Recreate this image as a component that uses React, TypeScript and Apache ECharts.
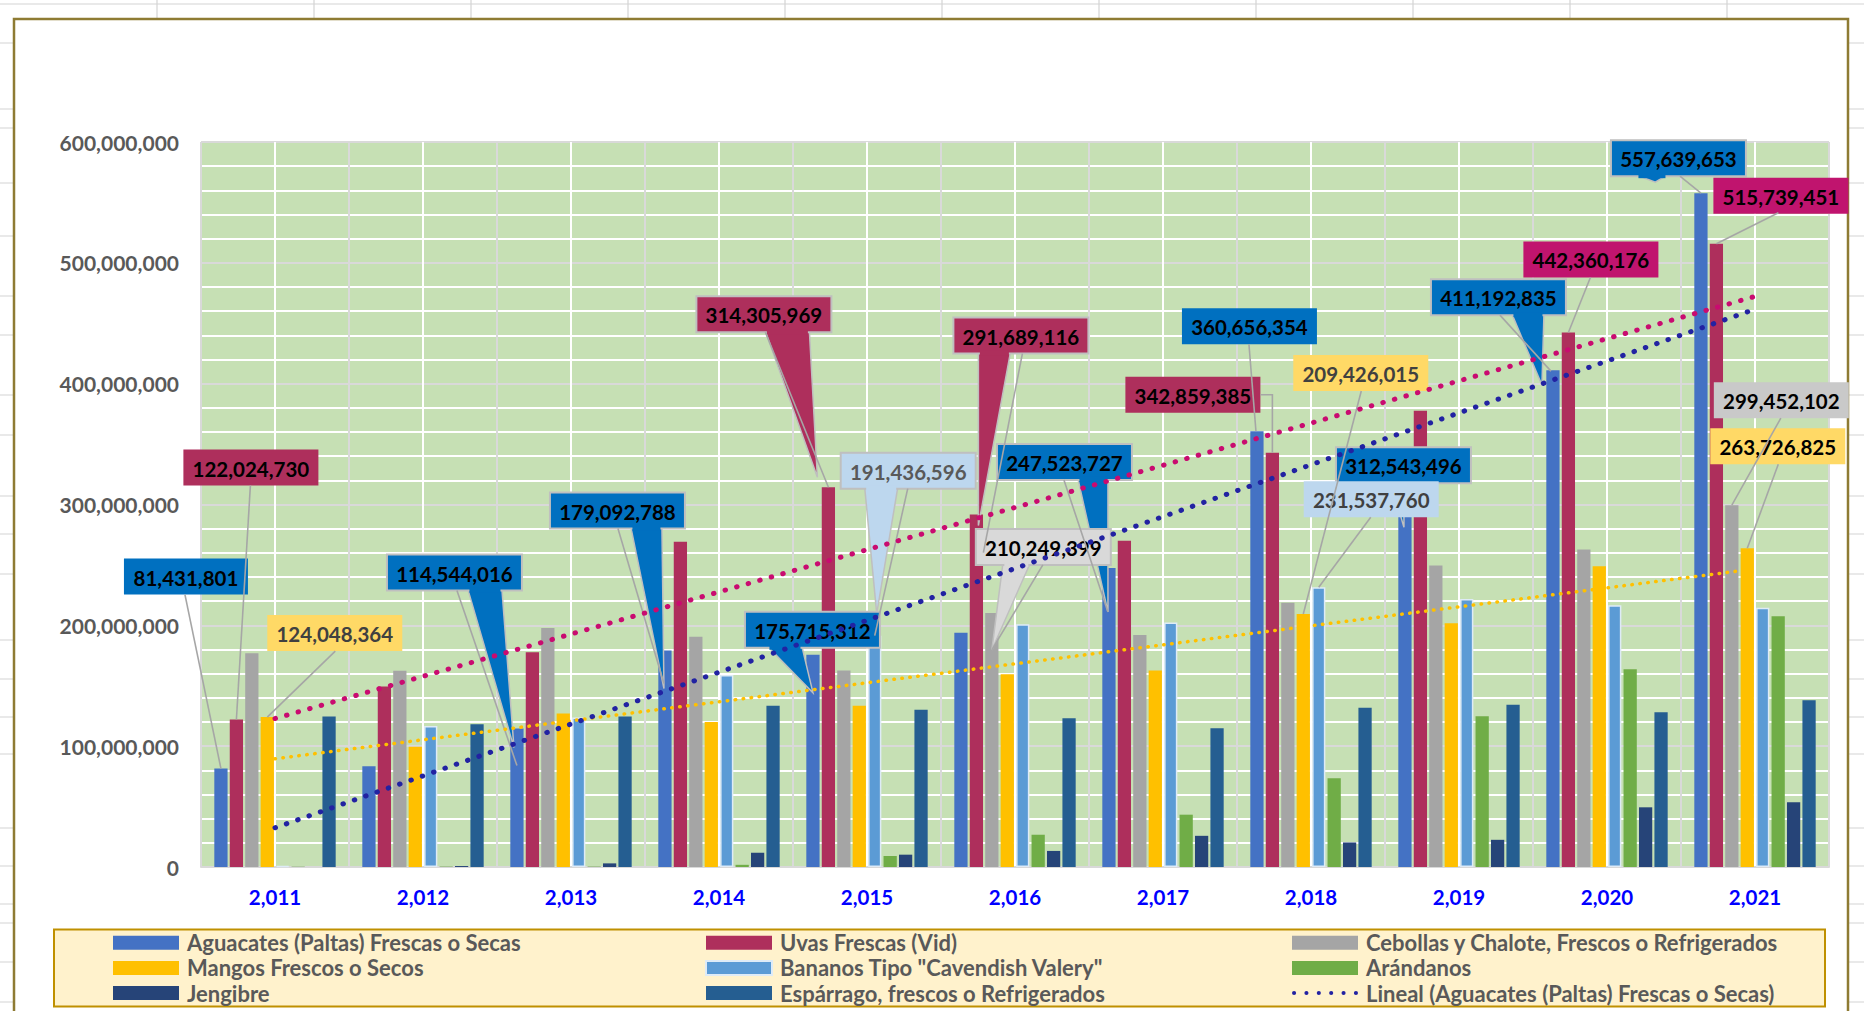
import React, { useEffect, useRef } from 'react';
import * as echarts from 'echarts';

// ---------------- DATA ----------------
const YEARS = [2011, 2012, 2013, 2014, 2015, 2016, 2017, 2018, 2019, 2020, 2021];
const CATEGORY_LABELS = YEARS.map((y) => y.toLocaleString('en-US'));

const NAME_AGU = 'Aguacates (Paltas) Frescas o Secas';
const NAME_UVA = 'Uvas Frescas (Vid)';
const NAME_CEB = 'Cebollas y Chalote, Frescos o Refrigerados';
const NAME_MAN = 'Mangos Frescos o Secos';
const NAME_BAN = 'Bananos Tipo "Cavendish Valery"';
const NAME_ARA = 'Arándanos';
const NAME_JEN = 'Jengibre';
const NAME_ESP = 'Espárrago, frescos o Refrigerados';
const NAME_TREND_AGU = 'Lineal (Aguacates (Paltas) Frescas o Secas)';
const NAME_TREND_UVA = 'Lineal (Uvas Frescas (Vid))';
const NAME_TREND_MAN = 'Lineal (Mangos Frescos o Secos)';

const AGUACATES = [81431801, 83400000, 114544016, 179092788, 175715312, 193800000, 247523727, 360656354, 312543496, 411192835, 557639653];
const UVAS = [122024730, 149400000, 177800000, 269200000, 314305969, 291689116, 269900000, 342859385, 377500000, 442360176, 515739451];
const CEBOLLAS = [176900000, 162500000, 197700000, 190600000, 162600000, 210249399, 191900000, 218700000, 249500000, 262700000, 299452102];
const MANGOS = [124048364, 99500000, 127000000, 119900000, 133400000, 159500000, 162600000, 209426015, 201800000, 248900000, 263726825];
const BANANOS = [1000000, 116700000, 123700000, 158800000, 191436596, 200800000, 202400000, 231537760, 221800000, 216600000, 214600000];
const ARANDANOS = [300000, 400000, 400000, 1800000, 9100000, 26700000, 43300000, 73500000, 124700000, 163700000, 207500000];
const JENGIBRE = [0, 800000, 3000000, 11800000, 10200000, 13300000, 25800000, 20300000, 22500000, 49400000, 53600000];
const ESPARRAGO = [124500000, 118100000, 124500000, 133400000, 130100000, 123100000, 114900000, 131800000, 134300000, 128100000, 138000000];

const Y_MIN = 0;
const Y_MAX = 600000000;
const Y_STEP = 100000000;

// ---------------- STYLE / LAYOUT ----------------
const FONT = 'Lato, "Open Sans", "DejaVu Sans", sans-serif';
const FS = 20.5;

const SERIES_VALUES = [AGUACATES, UVAS, CEBOLLAS, MANGOS, BANANOS, ARANDANOS, JENGIBRE, ESPARRAGO];
const BAR_DEFS = [
  { name: NAME_AGU, color: '#4472C4' },
  { name: NAME_UVA, color: '#AE2F5C' },
  { name: NAME_CEB, color: '#A5A5A5' },
  { name: NAME_MAN, color: '#FFC000' },
  { name: NAME_BAN, color: '#5B9BD5', border: '#DEEBF7' },
  { name: NAME_ARA, color: '#70AD47' },
  { name: NAME_JEN, color: '#264478' },
  { name: NAME_ESP, color: '#255E91' },
];
const N_BARS = BAR_DEFS.length;
const CAT_GAP = 0.18;
const BAR_GAP = 0.165;

const BLUE_BOX = '#0070C0';
const MAROON_BOX = '#AE2F5C';
const MAGENTA_BOX = '#C0146E';
const GOLD_BOX = '#FFD966';
const LBLUE_BOX = '#BDD7EE';
const GRAY_BOX = '#D9D9D9';
const GRAY_BOX2 = '#C9C9C9';
const EDGE = '#BFBFBF';
const LEADER = '#A6A6A6';

type Callout = {
  s: number; c: number; ox: number; oy: number; fill: string; ink: string;
  edge?: boolean; wedge?: number[]; lf?: number[]; lt?: number[]; elbow?: boolean;
};

// offsets in px relative to the top-centre of the bar being labelled
const CALLOUTS: Callout[] = [
  { s: 0, c: 0, ox: -97, oy: -210, fill: BLUE_BOX, ink: '#000', lf: [61, 36], lt: [0, 0] },
  { s: 1, c: 0, ox: -53, oy: -270, fill: MAROON_BOX, ink: '#000', lf: [67, 36], lt: [0, 0] },
  { s: 3, c: 0, ox: 0, oy: -102, fill: GOLD_BOX, ink: '#404040', lf: [68, 36], lt: [0, 0] },
  { s: 0, c: 2, ox: -130, oy: -174, fill: BLUE_BOX, ink: '#000', edge: true, wedge: [81, 115, -3, 19], lf: [70, 36], lt: [0, 37] },
  { s: 0, c: 3, ox: -115, oy: -158, fill: BLUE_BOX, ink: '#000', edge: true, wedge: [81, 112, -1, 38], lf: [68, 36], lt: [-1, 33] },
  { s: 1, c: 4, ox: -132, oy: -191, fill: MAROON_BOX, ink: '#000', edge: true, wedge: [69, 113, -11, -10], lf: [69, 36], lt: [0, 0] },
  { s: 4, c: 4, ox: -34, oy: -183, fill: LBLUE_BOX, ink: '#595959', edge: true, wedge: [24, 57, 2, -22], lf: [67, 36], lt: [0, 0] },
  { s: 0, c: 4, ox: -68, oy: -43, fill: BLUE_BOX, ink: '#000', edge: true, wedge: [23, 57, 0, 38] },
  { s: 1, c: 5, ox: -23, oy: -197, fill: MAROON_BOX, ink: '#000', edge: true, wedge: [25, 57, 2, 11], lf: [69, 36], lt: [7, 38] },
  { s: 0, c: 6, ox: -112, oy: -124, fill: BLUE_BOX, ink: '#000', edge: true, wedge: [81, 111, -1, 44], lf: [67, 36], lt: [-1, 44] },
  { s: 2, c: 5, ox: -16, oy: -84, fill: GRAY_BOX, ink: '#000', edge: true, wedge: [27, 54, 0, 37], lf: [67, 36], lt: [0, 37] },
  { s: 1, c: 7, ox: -147, oy: -76, fill: MAROON_BOX, ink: '#000', lf: [135, 18], lt: [0, 0], elbow: true },
  { s: 0, c: 7, ox: -75, oy: -123, fill: BLUE_BOX, ink: '#000', lf: [67, 36], lt: [-1, 0] },
  { s: 3, c: 7, ox: -10, oy: -259, fill: GOLD_BOX, ink: '#404040', lf: [68, 36], lt: [0, 0] },
  { s: 0, c: 8, ox: -69, oy: -42, fill: BLUE_BOX, ink: '#000', edge: true, wedge: [55, 68, -1, 38] },
  { s: 4, c: 7, ox: -15, oy: -106, fill: LBLUE_BOX, ink: '#404040', lf: [67, 36], lt: [0, 0] },
  { s: 0, c: 9, ox: -122, oy: -91, fill: BLUE_BOX, ink: '#000', edge: true, wedge: [81, 113, -11, 15], lf: [69, 36], lt: [-2, 1] },
  { s: 1, c: 9, ox: -45, oy: -91, fill: MAGENTA_BOX, ink: '#000', lf: [67, 36], lt: [0, 0] },
  { s: 0, c: 10, ox: -90, oy: -53, fill: BLUE_BOX, ink: '#000', edge: true, wedge: [26, 56, -45.6, -11], lf: [69, 36], lt: [0, 0] },
  { s: 1, c: 10, ox: -3, oy: -66, fill: MAGENTA_BOX, ink: '#000', lf: [65, 35], lt: [0, 0] },
  { s: 2, c: 10, ox: -18, oy: -123, fill: GRAY_BOX2, ink: '#000', lf: [67, 36], lt: [0, 0] },
  { s: 3, c: 10, ox: -37, oy: -120, fill: GOLD_BOX, ink: '#000', lf: [68, 36], lt: [0, 0] },
];

const SHEET_COLS = [157, 314, 471, 628, 785, 942, 1099, 1256, 1413, 1570, 1727];
const SHEET_ROWS = [4, 43, 109, 128, 183, 236, 296, 335, 395, 435, 496, 534, 574, 640, 679, 717, 754, 828, 866, 904, 923, 962, 1002];

const DOTS_ICON =
  'path://' +
  [0, 1, 2, 3, 4, 5]
    .map((k) => `M${12 * k},2a2,2 0 1,0 4,0a2,2 0 1,0 -4,0Z`)
    .join('');

function linearFit(vals: number[]): number[] {
  const n = vals.length;
  const mx = (n - 1) / 2;
  const my = vals.reduce((a, b) => a + b, 0) / n;
  let sxy = 0;
  let sxx = 0;
  vals.forEach((v, i) => {
    sxy += (i - mx) * (v - my);
    sxx += (i - mx) * (i - mx);
  });
  const b = sxy / sxx;
  return vals.map((_, i) => my + b * (i - mx));
}

function barTop(api: any, c: number, s: number, v: number): number[] {
  const p = api.coord([c, v]);
  const band = api.size([1, 0])[0];
  const bw = (band * (1 - CAT_GAP)) / (N_BARS + (N_BARS - 1) * BAR_GAP);
  return [p[0] + (s - (N_BARS - 1) / 2) * bw * (1 + BAR_GAP), p[1]];
}

function boxGeom(api: any) {
  const v = api.value(1) as number;
  const co = CALLOUTS[api.value(2) as number];
  const [bx, by] = barTop(api, co.c, co.s, v);
  const text = Math.round(v).toLocaleString('en-US');
  const w = Math.round(15 + 10.9 * text.length);
  const h = 36;
  return { co, bx, by, text, w, h, x0: bx + co.ox, y0: by + co.oy };
}

function buildOption(): any {
  const textBase = { fontFamily: FONT, fontWeight: 'bold', fontSize: FS };
  const calloutData = CALLOUTS.map((co, k) => [co.c, SERIES_VALUES[co.s][co.c], k]);
  const leaderData = calloutData.filter((d) => CALLOUTS[d[2]].lf);

  const graphics: any[] = [
    { type: 'rect', z: -10, silent: true, shape: { x: 0, y: 0, width: 1864, height: 1011 }, style: { fill: '#FFFFFF' } },
    ...SHEET_COLS.map((x) => ({
      type: 'line', z: -9, silent: true,
      shape: { x1: x, y1: 0, x2: x, y2: 1011 }, style: { stroke: '#D4D4D4', lineWidth: 1.2 },
    })),
    ...SHEET_ROWS.map((y) => ({
      type: 'line', z: -9, silent: true,
      shape: { x1: 0, y1: y, x2: 1864, y2: y }, style: { stroke: '#D4D4D4', lineWidth: 1.2 },
    })),
    {
      type: 'rect', z: -8, silent: true,
      shape: { x: 14, y: 19, width: 1834, height: 1100 },
      style: { fill: '#FFFFFF', stroke: '#8E7B33', lineWidth: 2.5 },
    },
    {
      type: 'rect', z: -7, silent: true,
      shape: { x: 54, y: 929.5, width: 1771, height: 77 },
      style: { fill: '#FFF2CC', stroke: '#BF9000', lineWidth: 2 },
    },
  ];

  const legendBase = {
    orient: 'vertical',
    top: 931.8,
    itemWidth: 66,
    itemHeight: 14,
    itemGap: 3.1,
    icon: 'rect',
    selectedMode: false,
    padding: 0,
    textStyle: { ...textBase, fontSize: 22, color: '#595959', lineHeight: 20, padding: [0, 0, 0, 3] },
  };

  const barSeries = BAR_DEFS.map((b, i) => ({
    type: 'bar',
    name: b.name,
    data: SERIES_VALUES[i],
    xAxisIndex: 0,
    yAxisIndex: 0,
    barCategoryGap: `${CAT_GAP * 100}%`,
    barGap: `${BAR_GAP * 100}%`,
    itemStyle: { color: b.color, borderColor: b.border || b.color, borderWidth: b.border ? 1.5 : 0 },
    z: 2,
    silent: true,
  }));

  const trendDefs = [
    { name: NAME_TREND_UVA, vals: UVAS, color: '#C90B70', width: 5, dash: [0.5, 11.5] },
    { name: NAME_TREND_MAN, vals: MANGOS, color: '#FFC000', width: 3.5, dash: [0.5, 7.5] },
    { name: NAME_TREND_AGU, vals: AGUACATES, color: '#2222A2', width: 5, dash: [0.5, 11.5] },
  ];
  const trendSeries = trendDefs.map((t) => ({
    type: 'line',
    name: t.name,
    data: linearFit(t.vals),
    xAxisIndex: 0,
    yAxisIndex: 0,
    symbol: 'none',
    silent: true,
    z: 6,
    itemStyle: { color: t.color },
    lineStyle: { color: t.color, width: t.width, type: t.dash, cap: 'round' },
  }));

  const calloutSeries = {
    type: 'custom',
    name: 'callouts',
    coordinateSystem: 'cartesian2d',
    xAxisIndex: 0,
    yAxisIndex: 0,
    silent: true,
    clip: false,
    z: 3,
    encode: { x: 0, y: 1 },
    data: calloutData,
    renderItem: (params: any, api: any) => {
      const g = boxGeom(api);
      const { co, bx, by, text, w, h, x0, y0 } = g;
      const children: any[] = [];
      if (co.wedge) {
        const [w1, w2, tx, ty] = co.wedge;
        children.push({
          type: 'polygon',
          shape: { points: [[x0 + w1, y0 + h - 1], [bx + tx, by + ty], [x0 + w2, y0 + h - 1]] },
          style: { fill: co.fill, stroke: co.edge ? EDGE : co.fill, lineWidth: 1.5 },
        });
      }
      children.push({
        type: 'rect',
        shape: { x: x0, y: y0, width: w, height: h },
        style: { fill: co.fill, stroke: co.edge ? EDGE : null, lineWidth: co.edge ? 2 : 0 },
      });
      if (co.wedge) {
        const [w1, w2] = co.wedge;
        children.push({
          type: 'rect',
          shape: { x: x0 + w1 + 1.5, y: y0 + h - 3, width: w2 - w1 - 3, height: 5 },
          style: { fill: co.fill },
        });
      }
      children.push({
        type: 'text',
        x: x0 + w / 2,
        y: y0 + h / 2 + 1,
        style: { ...textBase, text, fill: co.ink, align: 'center', verticalAlign: 'middle' },
      });
      return { type: 'group', children };
    },
  };

  const leaderSeries = {
    type: 'custom',
    name: 'leaders',
    coordinateSystem: 'cartesian2d',
    xAxisIndex: 0,
    yAxisIndex: 0,
    silent: true,
    clip: false,
    z: 4,
    encode: { x: 0, y: 1 },
    data: leaderData,
    renderItem: (params: any, api: any) => {
      const { co, bx, by, x0, y0 } = boxGeom(api);
      const lf = co.lf as number[];
      const lt = co.lt as number[];
      const start = [x0 + lf[0], y0 + lf[1]];
      const end = [bx + lt[0], by + lt[1]];
      const points = co.elbow ? [start, [end[0], start[1]], end] : [start, end];
      return {
        type: 'polyline',
        shape: { points },
        style: { stroke: LEADER, lineWidth: 1.6, fill: null },
      };
    },
  };

  return {
    animation: false,
    backgroundColor: '#FFFFFF',
    graphic: { elements: graphics },
    grid: {
      left: 201,
      top: 142,
      width: 1628,
      height: 725,
      show: true,
      backgroundColor: '#C6E0B4',
      borderWidth: 0,
      containLabel: false,
      outerBoundsMode: 'none',
    },
    xAxis: [
      {
        type: 'category',
        data: CATEGORY_LABELS,
        position: 'bottom',
        axisTick: { show: false },
        axisLine: { show: true, lineStyle: { color: '#D9D9D9', width: 2 } },
        axisLabel: { ...textBase, color: '#0000FF', margin: 19, interval: 0 },
        splitLine: { show: false },
      },
      {
        type: 'value',
        min: 0,
        max: CATEGORY_LABELS.length,
        interval: 0.5,
        position: 'bottom',
        show: true,
        axisTick: { show: false },
        axisLine: { show: false },
        axisLabel: { show: false },
        splitLine: { show: true, lineStyle: { color: ['#D9D9D9', '#FFFFFF'], width: 2 } },
      },
    ],
    yAxis: {
      type: 'value',
      min: Y_MIN,
      max: Y_MAX,
      interval: Y_STEP,
      axisLine: { show: false },
      axisTick: { show: false },
      axisLabel: {
        ...textBase,
        fontSize: 21,
        color: '#595959',
        margin: 22,
        formatter: (v: number) => v.toLocaleString('en-US'),
      },
      splitLine: { show: true, lineStyle: { color: '#D9D9D9', width: 2 } },
      minorTick: { show: false, splitNumber: 5 },
      minorSplitLine: { show: true, lineStyle: { color: '#FFFFFF', width: 2 } },
    },
    legend: [
      { ...legendBase, left: 113, data: [NAME_AGU, NAME_MAN, NAME_JEN] },
      { ...legendBase, left: 705, data: [NAME_UVA, NAME_BAN, NAME_ESP] },
      {
        ...legendBase,
        left: 1292,
        data: [
          NAME_CEB,
          NAME_ARA,
          {
            name: NAME_TREND_AGU,
            icon: DOTS_ICON,
            itemStyle: { color: '#2222A2', borderWidth: 0 },
            lineStyle: { width: 0, opacity: 0 },
          },
        ],
      },
    ],
    series: [...barSeries, calloutSeries, leaderSeries, ...trendSeries],
  };
}

export default function App() {
  const ref = useRef<HTMLDivElement>(null);
  useEffect(() => {
    const chart = echarts.init(ref.current as HTMLDivElement, undefined, { renderer: 'svg' });
    chart.setOption(buildOption());
    return () => chart.dispose();
  }, []);
  return (
    <div
      ref={ref}
      style={{ position: 'fixed', left: 0, top: 0, width: 1864, height: 1011, background: '#FFFFFF' }}
    />
  );
}
